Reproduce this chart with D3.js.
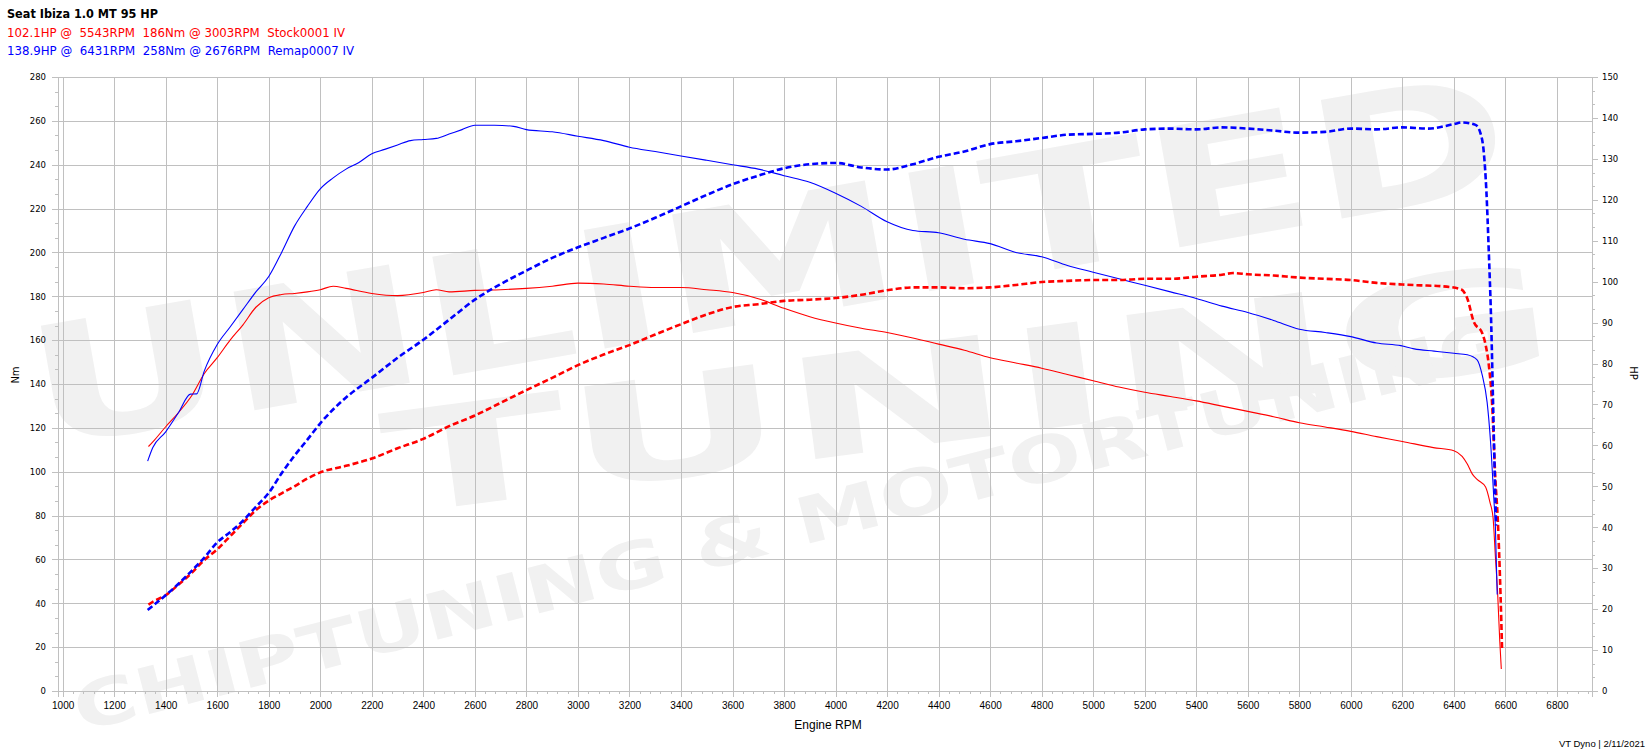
<!DOCTYPE html>
<html><head><meta charset="utf-8">
<script src="https://cdn.jsdelivr.net/npm/d3@7"></script>
<style>body{margin:0;background:#fff}svg{display:block}text{white-space:pre}</style>
</head><body><svg id="c" width="1648" height="754"></svg>
<script>
// ---------- DATA ----------
const titleText = "Seat Ibiza 1.0 MT 95 HP";
const stockLegend = "102.1HP @  5543RPM  186Nm @ 3003RPM  Stock0001 IV";
const remapLegend = "138.9HP @  6431RPM  258Nm @ 2676RPM  Remap0007 IV";
const rpmTicks = [1000,1200,1400,1600,1800,2000,2200,2400,2600,2800,3000,3200,3400,3600,3800,4000,4200,4400,4600,4800,5000,5200,5400,5600,5800,6000,6200,6400,6600,6800];
const nmTicks = [0,20,40,60,80,100,120,140,160,180,200,220,240,260,280];
const hpTicks = [0,10,20,30,40,50,60,70,80,90,100,110,120,130,140,150];

// Stock torque (Nm)
const stockTorqueRpm = [1333,1350,1400,1450,1500,1550,1600,1650,1700,1750,1800,1850,1900,1950,2000,2050,2100,2200,2300,2400,2450,2500,2600,2700,2800,2900,3000,3100,3200,3300,3400,3500,3600,3700,3800,3900,4000,4100,4200,4300,4400,4500,4600,4700,4800,4900,5000,5100,5200,5300,5400,5500,5600,5700,5800,5900,6000,6100,6200,6320,6400,6432,6452,6471,6490,6523,6540,6552,6561,6570,6578,6584];
const stockTorque = [111.5,113.6,120.5,127,134.5,144.8,152,160,167,175,179.3,180.8,181.3,182,183,184.6,183.6,181.3,180.3,181.7,183,182,182.7,183,183.6,184.6,186,185.6,184.6,184,184,183,181.7,178.9,174.5,170.7,167.8,165.4,163.5,161,158.2,155.4,152,149.6,147.2,144.3,141.5,138.6,136.2,134.3,132.3,129.9,127.5,125.1,122.3,120.4,118.4,116,113.8,111,109.6,107,103.5,99,96.5,93,86,79,61.4,43.9,22.8,10];

// Stock power (HP)
const stockPowerRpm = [1333,1350,1400,1450,1500,1550,1600,1650,1700,1750,1800,1850,1900,1950,2000,2100,2200,2300,2400,2500,2600,2700,2800,2900,3000,3100,3200,3300,3400,3500,3600,3700,3800,3900,4000,4100,4200,4300,4400,4500,4600,4700,4800,4900,5000,5100,5200,5300,5400,5500,5543,5600,5700,5800,5900,6000,6100,6200,6271,6348,6426,6452,6477,6510,6523,6535,6548,6561,6570,6581,6587];
const stockPower = [21.1,21.8,23.4,26,28.8,32,34.6,37.8,41,44.2,46.5,48.3,50,51.9,53.4,55,56.8,59.3,61.6,64.7,67.3,70.4,73.5,76.5,79.6,82.2,84.5,87.1,89.6,92,93.8,94.5,95.3,95.6,96,96.8,97.9,98.6,98.6,98.4,98.6,99.2,99.9,100.2,100.4,100.4,100.7,100.7,101.2,101.7,102.1,101.8,101.5,101,100.7,100.4,99.7,99.3,99.1,98.9,98.2,95.9,90.2,87.4,84.6,79.9,70.5,51.7,42.3,23.5,10];

// Remap torque (Nm)
const remapTorqueRpm = [1330,1350,1400,1450,1496,1520,1550,1600,1650,1700,1750,1800,1850,1900,1950,2000,2050,2100,2150,2200,2250,2300,2350,2400,2450,2500,2550,2600,2676,2750,2800,2900,3000,3100,3200,3300,3400,3500,3600,3700,3800,3900,4000,4100,4200,4300,4400,4500,4600,4700,4800,4900,5000,5100,5200,5300,5400,5500,5600,5700,5800,5900,6000,6100,6194,6246,6323,6400,6452,6490,6510,6529,6542,6555,6561,6568];
const remapTorque = [104.8,111,118.2,127,135.4,135.5,146,158,166,174,182,189,200,212,221,229,234,238,241,245,247,249,251,251.5,252,254,256,258,258,257.5,256,255,253,251,248,246,244,242,240,238,235,232,227,221,214,210,209,206,204,200,198,194,191,188,185,182,179,175.5,172.6,169,165,163.5,161.6,158.7,157.5,156,155,154,153.3,151,144,131.6,114,87.7,75,44];

// Remap power (HP)
const remapPowerRpm = [1330,1350,1400,1450,1500,1550,1600,1650,1700,1750,1800,1850,1900,1950,2000,2100,2200,2300,2400,2500,2600,2700,2800,2900,3000,3100,3200,3300,3400,3500,3600,3700,3800,3900,4000,4100,4200,4300,4400,4500,4600,4700,4800,4900,5000,5100,5200,5300,5400,5500,5600,5700,5800,5900,6000,6100,6200,6300,6400,6431,6484,6503,6516,6526,6535,6545,6552,6559,6564];
const remapPower = [19.8,20.8,23.4,26.2,29.3,32.6,36.3,38.8,41.6,45,48.4,53.2,57.5,61.4,65.4,71.7,76.5,81.4,85.8,90.7,95.6,99.4,102.7,105.8,108.4,110.7,113,115.6,118.4,121.2,123.8,125.9,127.7,128.7,129,127.9,127.4,128.7,130.5,131.8,133.6,134.3,135.1,135.9,136.1,136.4,137.2,137.4,137.2,137.7,137.4,136.9,136.4,136.6,137.4,137.2,137.7,137.4,138.5,138.9,138.3,136.3,131.6,122.2,108,89.3,70.5,51.7,40.4];

// ---------- DRAW ----------
const svg = d3.select("#c");
const L = 58, R = 1592, T = 77, B = 691;
const x = d3.scaleLinear().domain([982, 6936]).range([L, R]);
const yNm = d3.scaleLinear().domain([0, 280]).range([B, T]);
const yHp = d3.scaleLinear().domain([0, 150]).range([B, T]);
const crisp = v => Math.round(v) + 0.5;
const GRID = "#c0c0c0";
const FONT = "'DejaVu Sans', Verdana, sans-serif";

// watermark
const wm = svg.append("g").attr("fill", "#f1f1f1").attr("font-family", FONT).attr("font-weight", "bold");
wm.append("text").attr("transform", "translate(40,448) rotate(-10)").attr("font-size", 165)
  .attr("textLength", 1500).attr("lengthAdjust", "spacingAndGlyphs").text("UNLIMITED");
wm.append("text").attr("transform", "translate(390,515) rotate(-7.5)").attr("font-size", 140)
  .attr("textLength", 1180).attr("lengthAdjust", "spacingAndGlyphs").text("TUNING");
wm.append("text").attr("transform", "translate(80,732) rotate(-14.5)").attr("font-size", 64)
  .attr("textLength", 1480).attr("lengthAdjust", "spacingAndGlyphs").text("CHIPTUNING & MOTORTUNING");

// grid
const g = svg.append("g").attr("stroke", GRID).attr("stroke-width", 1).attr("shape-rendering", "crispEdges");
g.selectAll("line.v").data(rpmTicks).join("line").attr("class", "v")
  .attr("x1", d => crisp(x(d))).attr("x2", d => crisp(x(d))).attr("y1", T).attr("y2", B);
g.selectAll("line.h").data(nmTicks).join("line").attr("class", "h")
  .attr("x1", L).attr("x2", R).attr("y1", d => crisp(yNm(d))).attr("y2", d => crisp(yNm(d)));

// axes
function styleAxis(sel) {
  sel.selectAll("path.domain").attr("stroke", GRID).attr("shape-rendering", "crispEdges");
  sel.selectAll(".tick line").attr("stroke", GRID).attr("shape-rendering", "crispEdges");
  sel.selectAll(".tick text").attr("fill", "#000");
}
const minorRpm = d3.range(1000, 6936, 40);
const minorNm = d3.range(0, 280.01, 20 / 3);
const minorHp = d3.range(0, 150.01, 10 / 3);

const xMinor = svg.append("g").attr("transform", `translate(0,${B})`)
  .call(d3.axisBottom(x).tickValues(minorRpm).tickSize(3).tickFormat(""));
styleAxis(xMinor);
const xAx = svg.append("g").attr("transform", `translate(0,${B})`)
  .call(d3.axisBottom(x).tickValues(rpmTicks).tickSize(6).tickPadding(5).tickFormat(d3.format("d")))
  .attr("font-family", "'Liberation Sans', Arial, sans-serif").attr("font-size", 10);
styleAxis(xAx);

const yMinorL = svg.append("g").attr("transform", `translate(${L},0)`)
  .call(d3.axisLeft(yNm).tickValues(minorNm).tickSize(3).tickFormat(""));
styleAxis(yMinorL);
const yAxL = svg.append("g").attr("transform", `translate(${L},0)`)
  .call(d3.axisLeft(yNm).tickValues(nmTicks).tickSize(6).tickPadding(6))
  .attr("font-family", FONT).attr("font-size", 8.5);
styleAxis(yAxL);

const yMinorR = svg.append("g").attr("transform", `translate(${R},0)`)
  .call(d3.axisRight(yHp).tickValues(minorHp).tickSize(3).tickFormat(""));
styleAxis(yMinorR);
const yAxR = svg.append("g").attr("transform", `translate(${R},0)`)
  .call(d3.axisRight(yHp).tickValues(hpTicks).tickSize(6).tickPadding(4))
  .attr("font-family", FONT).attr("font-size", 8.5);
styleAxis(yAxR);

// curves
const curves = [
  { rpm: stockTorqueRpm, v: stockTorque, y: yNm, color: "#ff0000", dash: null },
  { rpm: remapTorqueRpm, v: remapTorque, y: yNm, color: "#0000ff", dash: null },
  { rpm: stockPowerRpm, v: stockPower, y: yHp, color: "#ff0000", dash: "6,3" },
  { rpm: remapPowerRpm, v: remapPower, y: yHp, color: "#0000ff", dash: "6,3" },
];
curves.forEach(c => {
  const pts = c.rpm.map((r, i) => [r, c.v[i]]);
  const line = d3.line().x(d => x(d[0])).y(d => c.y(d[1])).curve(d3.curveMonotoneX);
  svg.append("path").datum(pts).attr("d", line).attr("fill", "none")
    .attr("stroke", c.color).attr("stroke-width", c.dash ? 2.6 : 1.1)
    .attr("stroke-dasharray", c.dash);
});

// texts
svg.append("text").attr("x", 7).attr("y", 18).attr("font-family", FONT).attr("font-weight", "bold")
  .attr("font-size", 12).attr("textLength", 151).attr("lengthAdjust", "spacingAndGlyphs").text(titleText);
svg.append("text").attr("x", 7).attr("y", 36.5).attr("font-family", FONT).attr("fill", "#ff0000")
  .attr("font-size", 12).attr("textLength", 338).attr("lengthAdjust", "spacingAndGlyphs").text(stockLegend);
svg.append("text").attr("x", 7).attr("y", 55).attr("font-family", FONT).attr("fill", "#0000ff")
  .attr("font-size", 12).attr("textLength", 347).attr("lengthAdjust", "spacingAndGlyphs").text(remapLegend);

svg.append("text").attr("transform", "translate(19,375) rotate(-90)").attr("text-anchor", "middle")
  .attr("font-family", FONT).attr("font-size", 10).text("Nm");
svg.append("text").attr("transform", "translate(1630,373) rotate(90)").attr("text-anchor", "middle")
  .attr("font-family", FONT).attr("font-size", 10).text("HP");
svg.append("text").attr("x", 828).attr("y", 729).attr("text-anchor", "middle")
  .attr("font-family", "'Liberation Sans', Arial, sans-serif").attr("font-size", 12).text("Engine RPM");
svg.append("text").attr("x", 1645).attr("y", 747).attr("text-anchor", "end")
  .attr("font-family", "'Liberation Sans', Arial, sans-serif").attr("font-size", 9.5).text("VT Dyno | 2/11/2021");
</script></body></html>
